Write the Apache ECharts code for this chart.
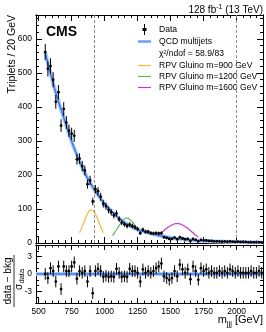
<!DOCTYPE html>
<html><head><meta charset="utf-8">
<script src="https://cdn.jsdelivr.net/npm/echarts@6/dist/echarts.min.js"></script>
<style>html,body{margin:0;padding:0;background:#fff}#c{width:266px;height:332px}</style>
</head><body><div id="c"></div>
<script>
// ---- data ----
const binCenters = [550,570,590,610,630,650,670,690,710,730,750,770,790,810,830,850,870,890,910,930,950,970,990,1010,1030,1050,1070,1090,1110,1130,1150,1170,1190,1210,1230,1250,1270,1290,1310,1330,1350,1370,1390,1410,1430,1450,1470,1490,1510,1530,1550,1570,1590,1610,1630,1650,1670,1690,1710,1730,1750,1770,1790,1810,1830,1850,1870,1890,1910,1930,1950,1970,1990,2010,2030,2050,2070,2090,2110,2130,2150,2170,2190];
const dataCounts = [561,512,520,480,415,443,345,394,354,330,
  321,315,246,248,226,213,173,184,122,158,
  152,136,115,108,97,90,81,87,70,60,
  55,50,54,50,46,41,29,39,33,33,
  29,28,29,28,29,17,15,12,12,16,
  11,17,14,11,12,6,12,9,5,9,
  8,8,6,6,5,5,5,4,5,4,
  5,4,3,4,3,3,3,2,2,2,
  2,2,2];
const fitValues = [561,528,498,469,442,416,392,369,345,321,
  299,278,259,240,223,206,191,177,164,152,
  141,130,120,111,102,94,86,79,72,66,
  60,55,51,46.5,43,39.6,36.9,34.3,32.0,29.9,
  27.9,25.9,24.0,22.2,20.6,19.1,17.6,16.2,14.9,13.8,
  12.8,11.8,10.9,10.1,9.4,8.8,8.2,7.6,7.2,6.7,
  6.3,5.9,5.5,5.2,4.9,4.6,4.3,4.06,3.8,3.6,
  3.4,3.2,3.0,2.9,2.7,2.56,2.42,2.29,2.16,2.05,
  1.93,1.84,1.74];
const pulls = [0,-0.7,1.0,0.5,-1.3,1.3,-2.6,1.3,0.5,0.5,
  1.3,2.0,-0.8,0.5,0.2,0.5,-1.3,0.5,-3.3,0.5,
  0.9,0.5,-0.5,-0.3,-0.5,-0.4,-0.5,0.9,0.2,-0.5,
  -0.4,-0.5,0.9,0.5,0.5,0.2,-1.3,0.8,0.2,0.5,
  0.2,0.5,1.0,1.3,1.8,-0.4,-0.7,-1.0,-0.7,0.5,
  -0.4,1.6,0.8,0.2,0.8,-0.9,1.3,0.5,-1.0,1.0,
  0.5,0.8,0.2,0.5,0.2,0.2,0.5,0.2,0.5,0.2,
  0.8,0.5,0.2,0.5,0.2,0.2,0.2,0.2,0.5,0.2,
  0.2,0.5,0.2];
const sig900M = [810,820,830,840,850,860,870,880,890,900,910,920,930,940,950,960,970,980,990];
const sig900Y = [30,39,48,58,68,77,85,92,96,97,96,92,85,77,68,58,48,39,30];
const sig1200M = [1060,1070,1080,1090,1100,1110,1120,1130,1140,1150,1160,1170,1180,1190,1200,1210,1220,1230,1240,1250,1260,1270];
const sig1200Y = [22,27,33,39,45,51,57,63,68,71,73,73,72,69,66,62,57,52,47,43,39,35];
const sig1600M = [1420,1430,1440,1450,1460,1470,1480,1490,1500,1510,1520,1530,1540,1550,1560,1570,1580,1590,1600,1610,1620,1630,1640,1650,1660,1670,1680,1690,1700,1710];
const sig1600Y = [26,30,33,36,40,43,46,48,51,53,55,56,57,57,57,56,55,53,51,48,46,43,40,36,33,30,26,23,20,18];
const xMajorTicks = [500,750,1000,1250,1500,1750,2000];
const yMajorTicks = [0,100,200,300,400,500,600];
const pullMajorTicks = [-3,0,3];
const dashedMasses = [920,2000];

// ---- styling ----
const FONT = "'Liberation Sans', Arial, Helvetica, sans-serif";
const XMIN = 480, XMAX = 2200, YMAX = 670, PMIN = -5, PMAX = 5;
const C900 = '#f7b733', C1200 = '#5cb85c', C1600 = '#c935c9', CFIT = '#3a7bec', CBAND = '#b3cdf5';
const LINE_ICON = 'path://M0,0h26v2.4h-26z';
const xMinor = [], yMinor = [], pMinor = [];
for (let v = 500; v <= 2200; v += 50) xMinor.push(v);
for (let v = 0; v <= 660; v += 20) yMinor.push(v);
for (let v = -5; v <= 5; v += 1) pMinor.push(v);

function ax(grid, pos, vals, len, showLabel, min, max) {
  return {
    type: 'value', gridIndex: grid, position: pos, min: min, max: max,
    axisLine: {show: true, onZero: false, lineStyle: {color: '#000', width: 1}},
    axisTick: {show: true, inside: true, length: len, customValues: vals, lineStyle: {color: '#000', width: 1}},
    axisLabel: {show: showLabel, customValues: vals, fontSize: 8.5, color: '#000', fontFamily: FONT, margin: 4,
      formatter: v => String(v)},
    splitLine: {show: false}
  };
}
const xAxes = [
  ax(0,'bottom',xMajorTicks,6,false,XMIN,XMAX), ax(0,'bottom',xMinor,3,false,XMIN,XMAX),
  ax(0,'top',xMajorTicks,6,false,XMIN,XMAX), ax(0,'top',xMinor,3,false,XMIN,XMAX),
  ax(1,'bottom',xMajorTicks,5,true,XMIN,XMAX), ax(1,'bottom',xMinor,2.5,false,XMIN,XMAX),
  ax(1,'top',xMajorTicks,5,false,XMIN,XMAX), ax(1,'top',xMinor,2.5,false,XMIN,XMAX)
];
const yAxes = [
  ax(0,'left',yMajorTicks,6,true,0,YMAX), ax(0,'left',yMinor,3,false,0,YMAX),
  ax(0,'right',yMajorTicks,6,false,0,YMAX), ax(0,'right',yMinor,3,false,0,YMAX),
  ax(1,'left',pullMajorTicks,6,true,PMIN,PMAX), ax(1,'left',pMinor,3,false,PMIN,PMAX),
  ax(1,'right',pullMajorTicks,6,false,PMIN,PMAX), ax(1,'right',pMinor,3,false,PMIN,PMAX)
];

function errBar(params, api) {
  const x = api.value(0), y = api.value(1), e = api.value(2);
  const p = api.coord([x, y]), hi = api.coord([x, y + e]), lo = api.coord([x, y - e]);
  return {type: 'group', children: [
    {type: 'line', shape: {x1: p[0], y1: hi[1], x2: p[0], y2: lo[1]}, style: {stroke: '#000', lineWidth: 1}},
    {type: 'circle', shape: {cx: p[0], cy: p[1], r: 1.4}, style: {fill: '#000'}}
  ]};
}

const ctx = document.createElement('canvas').getContext('2d');
function tw(t, size, weight) { ctx.font = (weight || 'normal') + ' ' + size + 'px ' + FONT; return ctx.measureText(t).width; }

// top-right lumi label pieces
const lumiR = 263, lumiY = 10;
const w1 = tw('(13 TeV)', 10), wsp = tw(' ', 10), wsup = tw('-1', 7);
const graphics = [
  {type:'text', x:46, y:32, style:{text:'CMS', font:'bold 14px ' + FONT, fill:'#000', verticalAlign:'middle'}},
  {type:'text', x:lumiR, y:lumiY, style:{text:'(13 TeV)', font:'10px ' + FONT, fill:'#000', align:'right', verticalAlign:'middle'}},
  {type:'text', x:lumiR - w1 - wsp, y:lumiY - 3, style:{text:'-1', font:'7px ' + FONT, fill:'#000', align:'right', verticalAlign:'middle'}},
  {type:'text', x:lumiR - w1 - wsp - wsup, y:lumiY, style:{text:'128 fb', font:'10px ' + FONT, fill:'#000', align:'right', verticalAlign:'middle'}},
  {type:'text', x:12, y:15, rotation:Math.PI/2, style:{text:'Triplets / 20 GeV', font:'10.5px ' + FONT, fill:'#000', align:'right', verticalAlign:'middle'}},
  {type:'text', x:8, y:281, rotation:Math.PI/2, style:{text:'data \u2212 bkg', font:'10px ' + FONT, fill:'#000', align:'center', verticalAlign:'middle'}},
  {type:'line', shape:{x1:14, y1:255, x2:14, y2:307}, style:{stroke:'#000', lineWidth:0.8}},
  {type:'text', x:19.5, y:290, rotation:Math.PI/2, style:{text:'\u03c3', font:'10px ' + FONT, fill:'#000', align:'left', verticalAlign:'middle'}},
  {type:'text', x:22, y:283.5, rotation:Math.PI/2, style:{text:'data', font:'7.5px ' + FONT, fill:'#000', align:'left', verticalAlign:'middle'}},
  {type:'text', x:263, y:320, style:{text:'[GeV]', font:'11px ' + FONT, fill:'#000', align:'right', verticalAlign:'middle'}},
  {type:'text', x:263 - tw('[GeV]', 11) - tw(' ', 11) - tw('jjj', 7.5), y:323.5, style:{text:'jjj', font:'7.5px ' + FONT, fill:'#000', align:'left', verticalAlign:'middle'}},
  {type:'text', x:263 - tw('[GeV]', 11) - tw(' ', 11) - tw('jjj', 7.5), y:320, style:{text:'m', font:'11px ' + FONT, fill:'#000', align:'right', verticalAlign:'middle'}}
];

const chart = echarts.init(document.getElementById('c'), null, {renderer: 'canvas'});
chart.setOption({
  animation: false,
  backgroundColor: '#fff',
  grid: [
    {left: 36, right: 3, top: 15, height: 228},
    {left: 36, right: 3, top: 245, height: 58}
  ],
  xAxis: xAxes,
  yAxis: yAxes,
  legend: {
    orient: 'vertical', left: 133, top: 19, itemWidth: 13, itemHeight: 11, itemGap: 2,
    selectedMode: false,
    textStyle: {fontSize: 8.6, fontFamily: FONT, color: '#000', padding: [0, 0, 0, 3]},
    data: [
      {name: 'Data', icon: 'path://M2,0h1v4h1.5v3h-1.5v4h-1v-4h-1.5v-3h1.5z', itemStyle: {color: '#000'}},
      {name: 'QCD multijets', icon: 'path://M0,0h26v5h-26z', itemStyle: {color: '#6d9ff0'}},
      {name: '\u03c7\u00b2/ndof = 58.9/83', icon: 'rect', itemStyle: {color: 'rgba(0,0,0,0)', borderWidth: 0}},
      {name: 'RPV Gluino m=900 GeV', icon: LINE_ICON, itemStyle: {color: C900}},
      {name: 'RPV Gluino m=1200 GeV', icon: LINE_ICON, itemStyle: {color: C1200}},
      {name: 'RPV Gluino m=1600 GeV', icon: LINE_ICON, itemStyle: {color: C1600}}
    ]
  },
  graphic: graphics,
  series: [
    {name: 'RPV Gluino m=900 GeV', type: 'line', xAxisIndex: 0, yAxisIndex: 0, smooth: true, showSymbol: false,
      data: sig900M.map((m, i) => [m, sig900Y[i]]), lineStyle: {color: C900, width: 1.2}, itemStyle: {color: C900}, z: 3},
    {name: 'RPV Gluino m=1200 GeV', type: 'line', xAxisIndex: 0, yAxisIndex: 0, smooth: true, showSymbol: false,
      data: sig1200M.map((m, i) => [m, sig1200Y[i]]), lineStyle: {color: C1200, width: 1.2}, itemStyle: {color: C1200}, z: 3},
    {name: 'RPV Gluino m=1600 GeV', type: 'line', xAxisIndex: 0, yAxisIndex: 0, smooth: true, showSymbol: false,
      data: sig1600M.map((m, i) => [m, sig1600Y[i]]), lineStyle: {color: C1600, width: 1.2}, itemStyle: {color: C1600}, z: 3},
    {name: 'fitband', type: 'line', xAxisIndex: 0, yAxisIndex: 0, smooth: true, showSymbol: false, silent: true,
      data: binCenters.map((m, i) => [m, fitValues[i]]), lineStyle: {color: CBAND, width: 4}, z: 2},
    {name: 'QCD multijets', type: 'line', xAxisIndex: 0, yAxisIndex: 0, smooth: true, showSymbol: false,
      data: binCenters.map((m, i) => [m, fitValues[i]]), lineStyle: {color: CFIT, width: 1.5}, itemStyle: {color: CFIT}, z: 4,
      markLine: {silent: true, symbol: ['none', 'none'], label: {show: false},
        lineStyle: {color: '#8a8a8a', type: [3, 2], width: 1},
        data: dashedMasses.map(m => ({xAxis: m}))}},
    {name: '\u03c7\u00b2/ndof = 58.9/83', type: 'line', xAxisIndex: 0, yAxisIndex: 0, data: []},
    {name: 'Data', type: 'custom', xAxisIndex: 0, yAxisIndex: 0, renderItem: errBar, encode: {x: 0, y: 1},
      itemStyle: {color: '#000'}, z: 6,
      data: binCenters.map((m, i) => [m, dataCounts[i], Math.sqrt(dataCounts[i])])},
    {name: 'pulls', type: 'custom', xAxisIndex: 4, yAxisIndex: 4, renderItem: errBar, encode: {x: 0, y: 1},
      itemStyle: {color: '#000'}, z: 6,
      data: binCenters.map((m, i) => [m, pulls[i], 1]),
      markArea: {silent: true, itemStyle: {color: CBAND}, data: [[{yAxis: -0.35}, {yAxis: 0.35}]]},
      markLine: {silent: true, symbol: ['none', 'none'], label: {show: false},
        lineStyle: {color: CFIT, type: 'solid', width: 1.5}, data: [{yAxis: 0}]}}
  ]
});
</script>
</body></html>
